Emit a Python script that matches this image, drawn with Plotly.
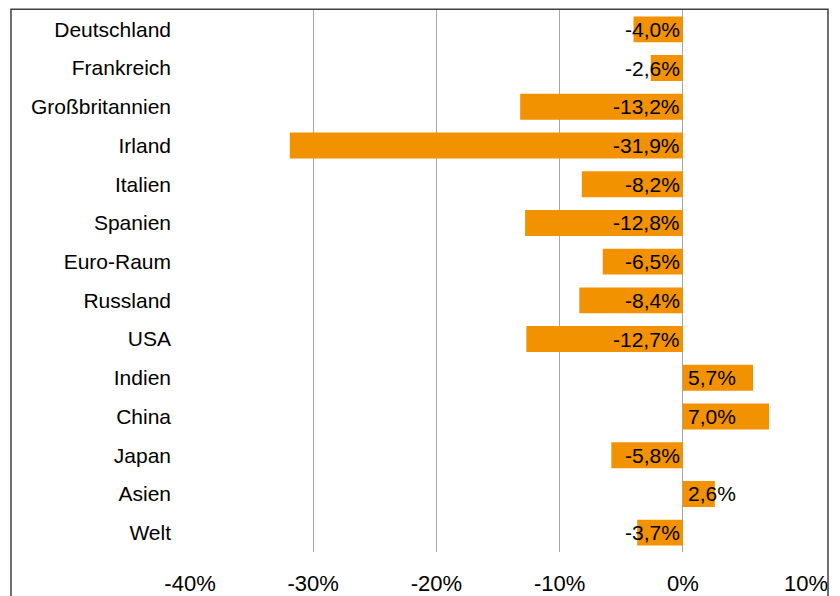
import plotly.graph_objects as go

countries = ["Deutschland", "Frankreich", "Großbritannien", "Irland", "Italien",
             "Spanien", "Euro-Raum", "Russland", "USA", "Indien", "China",
             "Japan", "Asien", "Welt"]
change_pct = [-4.0, -2.6, -13.2, -31.9, -8.2, -12.8, -6.5, -8.4, -12.7,
              5.7, 7.0, -5.8, 2.6, -3.7]
x_ticks = [-40, -30, -20, -10, 0, 10]
x_tick_labels = [f"{t}%" for t in x_ticks]

fig = go.Figure(go.Bar(
    x=change_pct,
    y=countries,
    orientation="h",
    marker=dict(color="#F39200", line=dict(width=0)),
    hoverinfo="skip",
))

# value labels sit next to the zero line, like Excel's "inside base"
for c, v in zip(countries, change_pct):
    txt = f"{v:.1f}%".replace(".", ",")
    fig.add_annotation(
        x=0, y=c, text=txt, showarrow=False,
        xanchor="right" if v < 0 else "left",
        xshift=-1 if v < 0 else 3,
        font=dict(size=21, color="black"),
    )

# outer chart frame
fig.add_shape(type="rect", xref="paper", yref="paper",
              x0=-0.2906, x1=1.0357, y0=-0.3, y1=1.0016,
              line=dict(color="#404040", width=1.5))

# page body adds an 8px offset, so the figure is 8px smaller than the window
fig.update_layout(
    width=832, height=588,
    margin=dict(l=182, r=34, t=2, b=44),
    plot_bgcolor="white",
    paper_bgcolor="white",
    font=dict(family="Liberation Sans, Arial, sans-serif", color="black"),
    bargap=0.33,
    showlegend=False,
    xaxis=dict(
        range=[-40, 10], tickvals=x_ticks, ticktext=x_tick_labels,
        showgrid=True, gridcolor="#A6A6A6", gridwidth=1,
        zeroline=True, zerolinecolor="#A6A6A6", zerolinewidth=1,
        showline=False, tickfont=dict(size=22),
        ticklabelstandoff=16, automargin=False,
    ),
    yaxis=dict(
        autorange="reversed", showgrid=False, showline=False,
        tickfont=dict(size=21), ticklabelstandoff=18, automargin=False,
    ),
)

fig.write_html("out.html")
